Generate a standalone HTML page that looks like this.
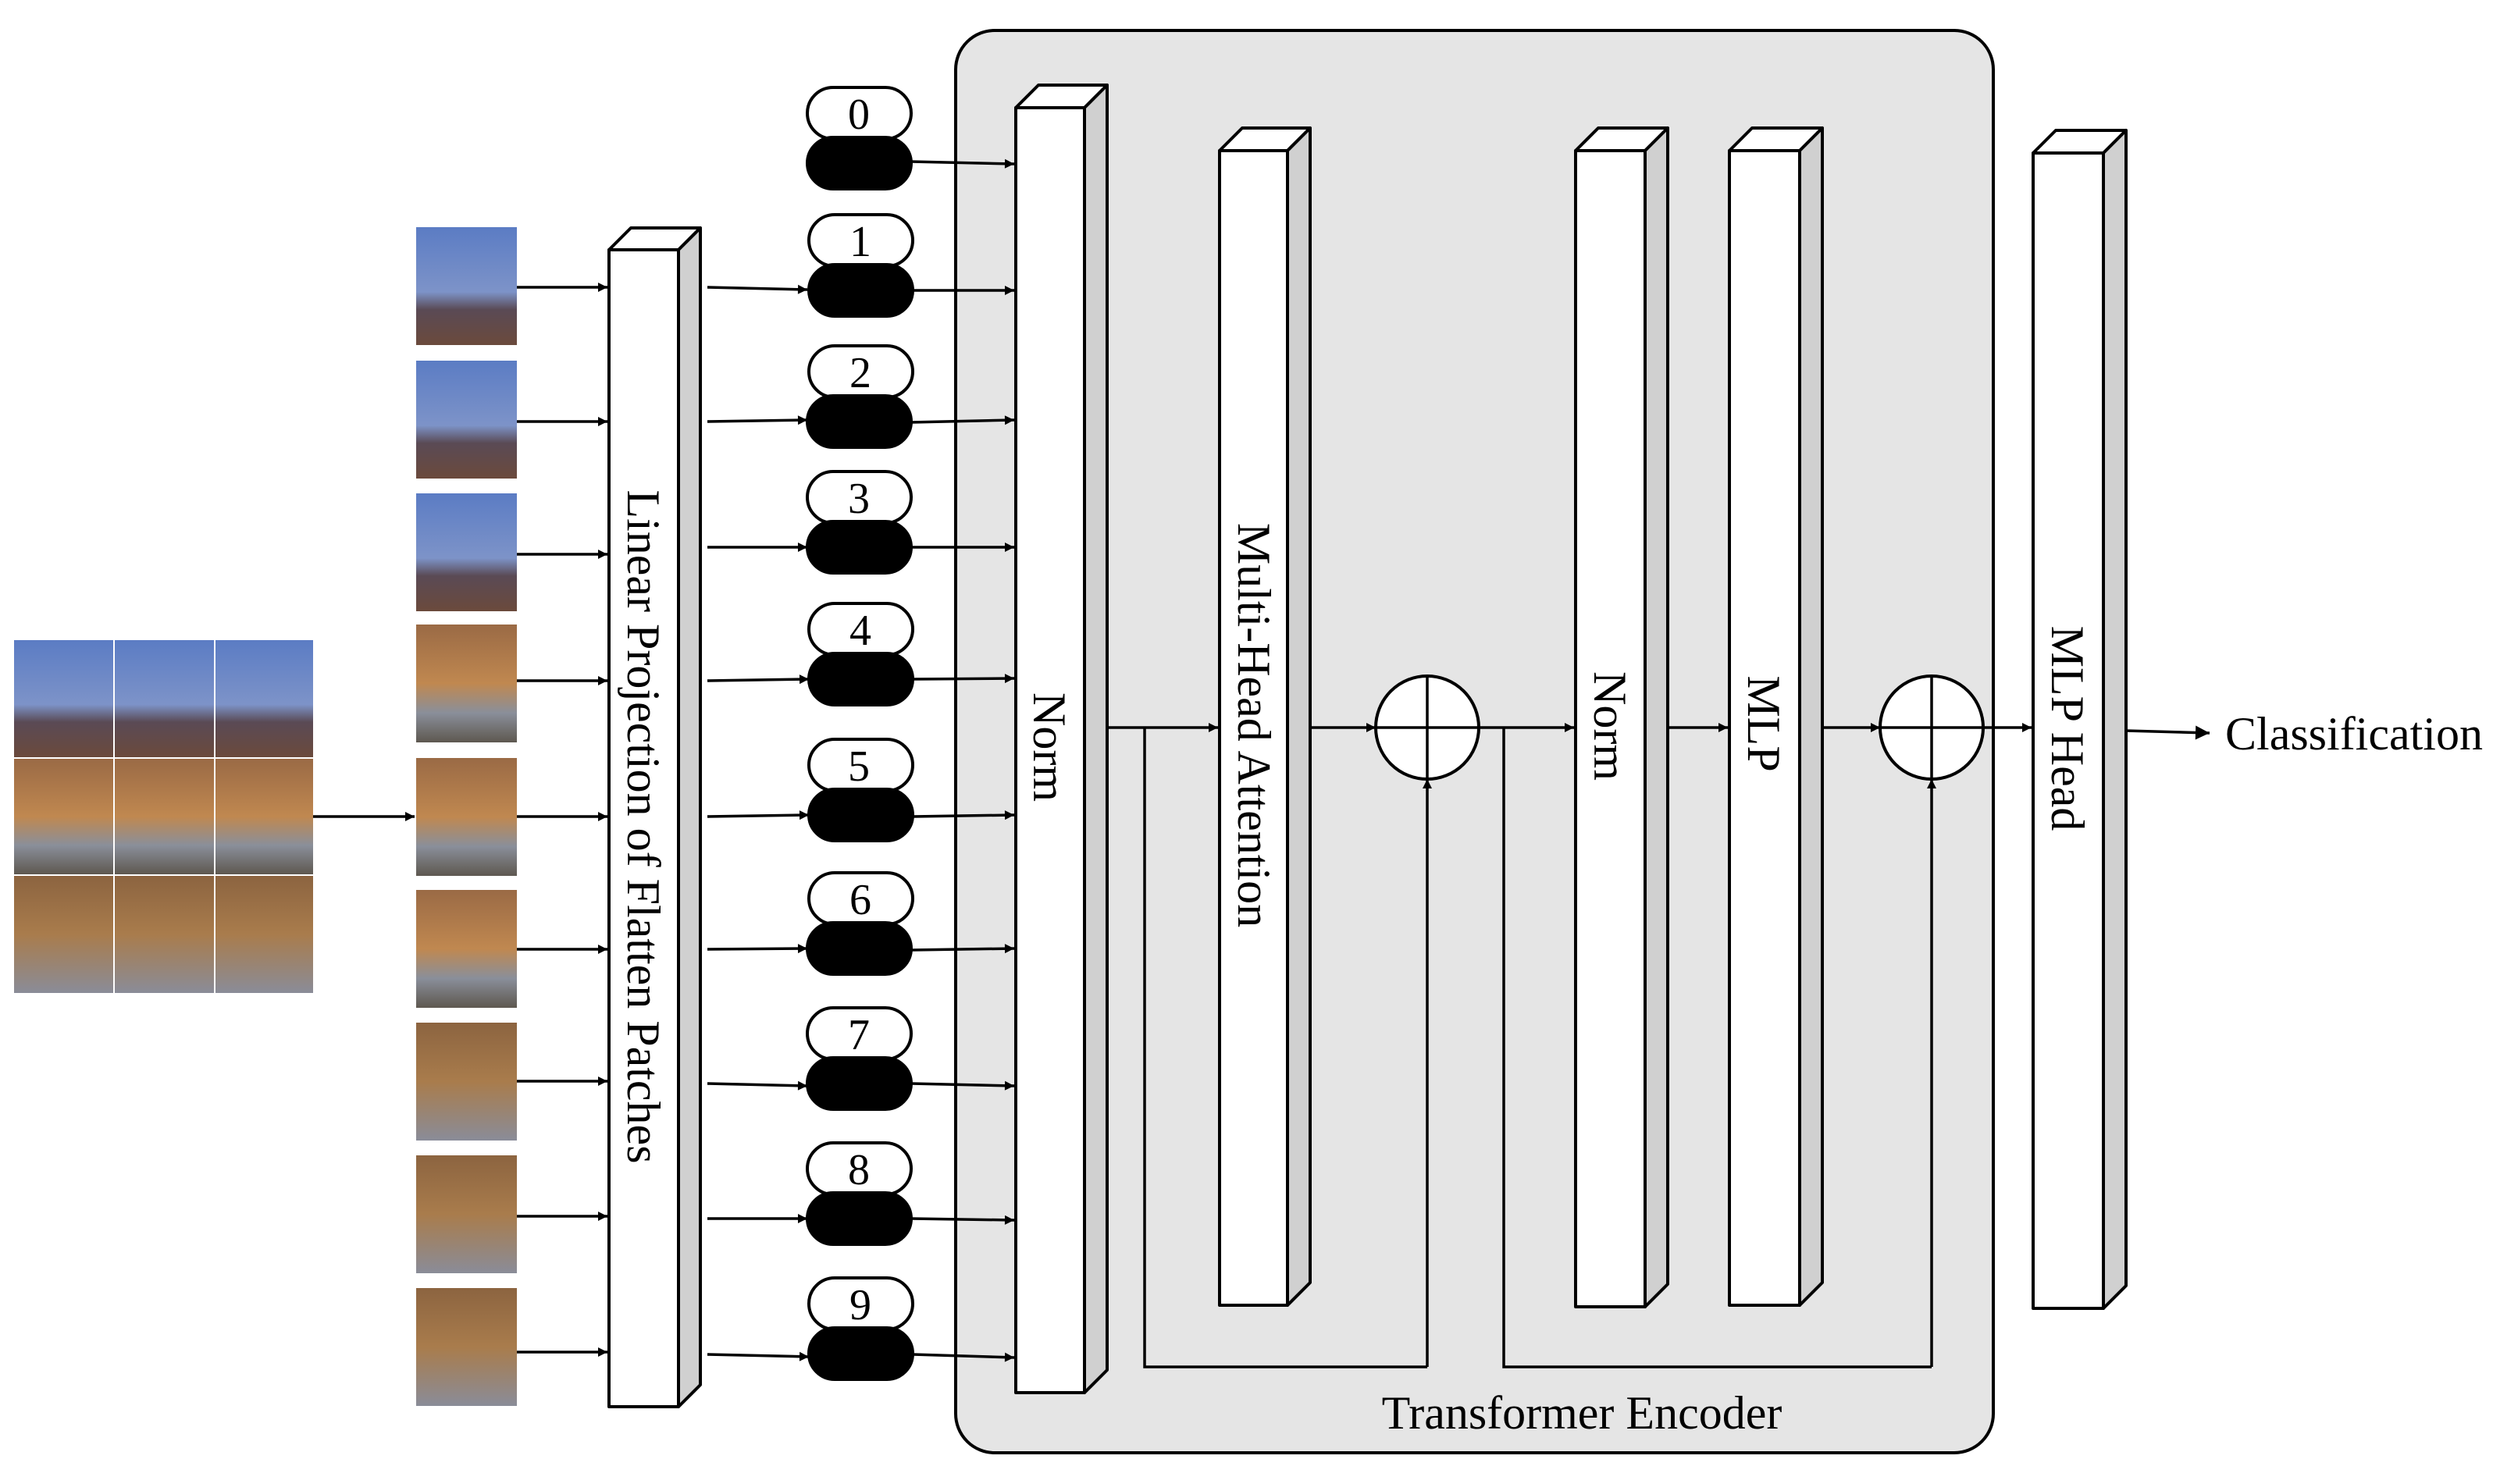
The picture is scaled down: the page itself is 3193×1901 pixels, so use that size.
<!DOCTYPE html>
<html><head><meta charset="utf-8"><style>html,body{margin:0;padding:0;background:#fff}svg{display:block}</style></head><body>
<svg width="3193" height="1901" viewBox="0 0 3193 1901" xmlns="http://www.w3.org/2000/svg" font-family="Liberation Serif, serif">
<defs>
<marker id="a" viewBox="0 0 10 10" refX="10" refY="5" markerWidth="14" markerHeight="12" markerUnits="userSpaceOnUse" orient="auto"><path d="M0,0L10,5L0,10z" fill="#000"/></marker>
<marker id="b" viewBox="0 0 10 10" refX="10" refY="5" markerWidth="26" markerHeight="18" markerUnits="userSpaceOnUse" orient="auto"><path d="M0,0L10,5L0,10z" fill="#000"/></marker>
<linearGradient id="sky" x1="0" y1="0" x2="0" y2="1"><stop offset="0" stop-color="#5b7cc4"/><stop offset="0.55" stop-color="#7d93c8"/><stop offset="0.7" stop-color="#5a4a55"/><stop offset="1" stop-color="#6b4a3c"/></linearGradient>
<linearGradient id="mid" x1="0" y1="0" x2="0" y2="1"><stop offset="0" stop-color="#9a6a45"/><stop offset="0.5" stop-color="#c08850"/><stop offset="0.75" stop-color="#8a8f9a"/><stop offset="1" stop-color="#5e5850"/></linearGradient>
<linearGradient id="low" x1="0" y1="0" x2="0" y2="1"><stop offset="0" stop-color="#8c6440"/><stop offset="0.5" stop-color="#a97c4c"/><stop offset="1" stop-color="#8a8c98"/></linearGradient>
</defs>
<rect x="1224" y="39" width="1329" height="1822" rx="50" fill="#e5e5e5" stroke="#000" stroke-width="4"/>
<g>
<rect x="18" y="820" width="127" height="150" fill="url(#sky)"/><rect x="147" y="820" width="127" height="150" fill="url(#sky)"/><rect x="276" y="820" width="125" height="150" fill="url(#sky)"/>
<rect x="18" y="972" width="127" height="148" fill="url(#mid)"/><rect x="147" y="972" width="127" height="148" fill="url(#mid)"/><rect x="276" y="972" width="125" height="148" fill="url(#mid)"/>
<rect x="18" y="1122" width="127" height="150" fill="url(#low)"/><rect x="147" y="1122" width="127" height="150" fill="url(#low)"/><rect x="276" y="1122" width="125" height="150" fill="url(#low)"/>
</g>
<line x1="401" y1="1046" x2="531" y2="1046" stroke="#000" stroke-width="3.5" marker-end="url(#a)"/>
<g>
<rect x="533" y="291" width="129" height="151" fill="url(#sky)"/>
<rect x="533" y="462" width="129" height="151" fill="url(#sky)"/>
<rect x="533" y="632" width="129" height="151" fill="url(#sky)"/>
<rect x="533" y="800" width="129" height="151" fill="url(#mid)"/>
<rect x="533" y="971" width="129" height="151" fill="url(#mid)"/>
<rect x="533" y="1140" width="129" height="151" fill="url(#mid)"/>
<rect x="533" y="1310" width="129" height="151" fill="url(#low)"/>
<rect x="533" y="1480" width="129" height="151" fill="url(#low)"/>
<rect x="533" y="1650" width="129" height="151" fill="url(#low)"/>
</g>
<g stroke="#000" stroke-width="3.5" marker-end="url(#a)">
<line x1="662" y1="368" x2="778" y2="368"/><line x1="662" y1="540" x2="778" y2="540"/><line x1="662" y1="710" x2="778" y2="710"/>
<line x1="662" y1="872" x2="778" y2="872"/><line x1="662" y1="1046" x2="778" y2="1046"/><line x1="662" y1="1216" x2="778" y2="1216"/>
<line x1="662" y1="1385" x2="778" y2="1385"/><line x1="662" y1="1558" x2="778" y2="1558"/><line x1="662" y1="1732" x2="778" y2="1732"/>
</g>
<g stroke="#000" stroke-width="4" stroke-linejoin="round">
<polygon points="780,320 808,292 897,292 869,320" fill="#fff"/><polygon points="869,320 897,292 897,1774 869,1802" fill="#d0d0d0"/><rect x="780" y="320" width="89" height="1482" fill="#fff"/>
<polygon points="1301,138 1330,109 1418,109 1389,138" fill="#fff"/><polygon points="1389,138 1418,109 1418,1755 1389,1784" fill="#d0d0d0"/><rect x="1301" y="138" width="88" height="1646" fill="#fff"/>
<polygon points="1562,193 1591,164 1678,164 1649,193" fill="#fff"/><polygon points="1649,193 1678,164 1678,1643 1649,1672" fill="#d0d0d0"/><rect x="1562" y="193" width="87" height="1479" fill="#fff"/>
<polygon points="2018,193 2047,164 2136,164 2107,193" fill="#fff"/><polygon points="2107,193 2136,164 2136,1645 2107,1674" fill="#d0d0d0"/><rect x="2018" y="193" width="89" height="1481" fill="#fff"/>
<polygon points="2215,193 2244,164 2334,164 2305,193" fill="#fff"/><polygon points="2305,193 2334,164 2334,1643 2305,1672" fill="#d0d0d0"/><rect x="2215" y="193" width="90" height="1479" fill="#fff"/>
<polygon points="2604,196 2633,167 2723,167 2694,196" fill="#fff"/><polygon points="2694,196 2723,167 2723,1647 2694,1676" fill="#d0d0d0"/><rect x="2604" y="196" width="90" height="1480" fill="#fff"/>
</g>
<g stroke="#000" stroke-width="4">
<rect x="1034" y="112" width="133" height="66" rx="33" fill="#fff"/><rect x="1034" y="176" width="133" height="66" rx="33" fill="#000"/>
<rect x="1036" y="275" width="133" height="66" rx="33" fill="#fff"/><rect x="1036" y="339" width="133" height="66" rx="33" fill="#000"/>
<rect x="1036" y="443" width="133" height="66" rx="33" fill="#fff"/><rect x="1034" y="507" width="133" height="66" rx="33" fill="#000"/>
<rect x="1034" y="604" width="133" height="66" rx="33" fill="#fff"/><rect x="1034" y="668" width="133" height="66" rx="33" fill="#000"/>
<rect x="1036" y="773" width="133" height="66" rx="33" fill="#fff"/><rect x="1036" y="837" width="133" height="66" rx="33" fill="#000"/>
<rect x="1036" y="947" width="133" height="66" rx="33" fill="#fff"/><rect x="1036" y="1011" width="133" height="66" rx="33" fill="#000"/>
<rect x="1036" y="1118" width="133" height="66" rx="33" fill="#fff"/><rect x="1034" y="1182" width="133" height="66" rx="33" fill="#000"/>
<rect x="1034" y="1291" width="133" height="66" rx="33" fill="#fff"/><rect x="1034" y="1355" width="133" height="66" rx="33" fill="#000"/>
<rect x="1034" y="1464" width="133" height="66" rx="33" fill="#fff"/><rect x="1034" y="1528" width="133" height="66" rx="33" fill="#000"/>
<rect x="1036" y="1637" width="133" height="66" rx="33" fill="#fff"/><rect x="1036" y="1701" width="133" height="66" rx="33" fill="#000"/>
</g>
<g font-size="56" text-anchor="middle" fill="#000">
<text x="1100" y="165">0</text><text x="1102" y="328">1</text><text x="1102" y="496">2</text><text x="1100" y="657">3</text><text x="1102" y="826">4</text>
<text x="1100" y="1000">5</text><text x="1102" y="1171">6</text><text x="1100" y="1344">7</text><text x="1100" y="1517">8</text><text x="1102" y="1690">9</text>
</g>
<g stroke="#000" stroke-width="3.5" marker-end="url(#a)">
<line x1="906" y1="368" x2="1034" y2="371"/><line x1="906" y1="540" x2="1034" y2="538"/><line x1="906" y1="701" x2="1034" y2="701"/>
<line x1="906" y1="872" x2="1036" y2="870"/><line x1="906" y1="1046" x2="1036" y2="1044"/><line x1="906" y1="1216" x2="1034" y2="1215"/>
<line x1="906" y1="1388" x2="1034" y2="1391"/><line x1="906" y1="1561" x2="1034" y2="1561"/><line x1="906" y1="1735" x2="1036" y2="1738"/>
<line x1="1167" y1="207" x2="1299" y2="210"/><line x1="1169" y1="372" x2="1299" y2="372"/><line x1="1167" y1="541" x2="1299" y2="538"/>
<line x1="1167" y1="701" x2="1299" y2="701"/><line x1="1169" y1="870" x2="1299" y2="869"/><line x1="1169" y1="1046" x2="1299" y2="1044"/>
<line x1="1167" y1="1217" x2="1299" y2="1215"/><line x1="1167" y1="1388" x2="1299" y2="1391"/><line x1="1167" y1="1561" x2="1299" y2="1563"/>
<line x1="1169" y1="1735" x2="1299" y2="1739"/>
<line x1="1418" y1="932" x2="1560" y2="932"/>
<line x1="1678" y1="932" x2="1762" y2="932"/>
<line x1="1894" y1="932" x2="2016" y2="932"/>
<line x1="2136" y1="932" x2="2213" y2="932"/>
<line x1="2334" y1="932" x2="2408" y2="932"/>
<line x1="2540" y1="932" x2="2602" y2="932"/>
<line x1="1828" y1="1751" x2="1828" y2="998"/>
<line x1="2474" y1="1751" x2="2474" y2="998"/>
</g>
<line x1="2723" y1="936" x2="2830" y2="939" stroke="#000" stroke-width="3.5" marker-end="url(#b)"/>
<polyline points="1466,932 1466,1751 1828,1751" fill="none" stroke="#000" stroke-width="3.5"/>
<polyline points="1926,932 1926,1751 2474,1751" fill="none" stroke="#000" stroke-width="3.5"/>
<g stroke="#000" stroke-width="4" fill="#fff">
<circle cx="1828" cy="932" r="66"/><circle cx="2474" cy="932" r="66"/>
</g>
<g stroke="#000" stroke-width="3.5">
<line x1="1762" y1="932" x2="1894" y2="932"/><line x1="1828" y1="866" x2="1828" y2="998"/>
<line x1="2408" y1="932" x2="2540" y2="932"/><line x1="2474" y1="866" x2="2474" y2="998"/>
</g>
<g font-size="60" fill="#000" text-anchor="middle">
<text transform="translate(804,1059) rotate(90)">Linear Projection of Flatten Patches</text>
<text transform="translate(1324,957) rotate(90)">Norm</text>
<text transform="translate(1586,929) rotate(90)">Multi-Head Attention</text>
<text transform="translate(2042,930) rotate(90)">Norm</text>
<text transform="translate(2239,927) rotate(90)">MLP</text>
<text transform="translate(2628,933) rotate(90)">MLP Head</text>
<text x="2026" y="1830">Transformer Encoder</text>
</g>
<text x="2850" y="960" font-size="60" fill="#000">Classification</text>
</svg>
</body></html>
